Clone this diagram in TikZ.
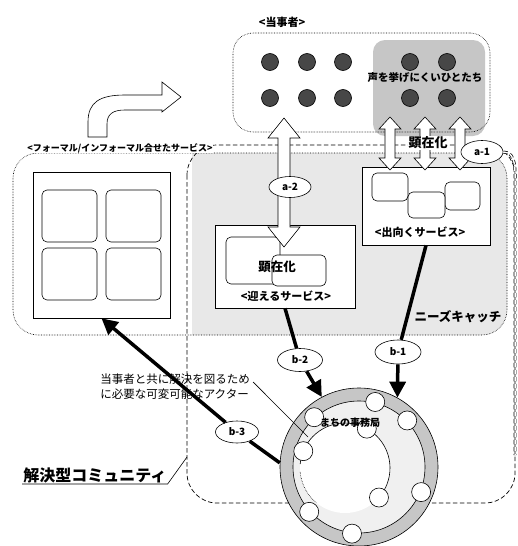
\documentclass[tikz,border=0pt]{standalone}
\usepackage{fontspec}
\newfontfamily\jp{Noto Sans CJK JP}
\usetikzlibrary{arrows.meta,calc,shapes.geometric}
\newcommand{\fatarrow}[5]{%
  \draw[fill=white] (#1) -- ++(#3,#5) -- ++(-#3+#4,0) -- ($(#2)+(#4,-#5)$) -- ++(#3-#4,0) -- (#2) -- ++(-#3,-#5) -- ++(#3-#4,0) -- ($(#1)+(-#4,#5)$) -- ++(-#3+#4,0) -- cycle;}
\tikzset{
  jplabel/.style={font=\jp\bfseries\fontsize{#1}{#1}\selectfont, inner sep=1pt},
  svcbox/.style={draw, fill=white, inner sep=0pt},
  roundbox/.style={draw, fill=white, rounded corners=5pt, inner sep=0pt},
  person/.style={circle, draw, fill=black!72, minimum size=17pt, inner sep=0pt},
  ring/.style={circle, draw, fill=white, minimum size=19pt, inner sep=0pt},
  tagoval/.style={ellipse, draw, fill=white, inner sep=0pt, font=\jp\bfseries\fontsize{10}{10}\selectfont},
  bigline/.style={line width=3.5pt, -{Triangle[length=16pt,width=16pt]}},
  commline/.style={dash pattern=on 4.5pt off 2.5pt, line width=0.7pt},
}
\begin{document}
\begin{tikzpicture}[x=1pt, y=-1pt, line width=0.6pt]
  \fill[white] (0,0) rectangle (518,546);
  \useasboundingbox (0,0) rectangle (518,546);

  \begin{scope}
    \clip (192,150) rectangle (518,340);
    \fill[gray!18, rounded corners=25pt] (13,153) rectangle (507,335);
  \end{scope}
  \node[draw, densely dotted, rounded corners=25pt, minimum width=494pt, minimum height=182pt] (service) at (260,244) {};
  \draw[commline, rounded corners=30pt] (187,145) rectangle (515,503);

  \fill[gray!45, rounded corners=12pt] (373,40) rectangle (485,136);
  \node[draw, densely dotted, rounded corners=20pt, minimum width=257pt, minimum height=99pt] (party) at (361.5,82.5) {};
  \foreach \x in {270,307,343,410,447}
    \foreach \y in {62,98}
      \node[person] (p-\x-\y) at (\x,\y) {};
  \node[jplabel=10.5] (voice) at (425,78) {声を挙げにくいひとたち};
  \node[jplabel=11] (tojisha) at (282,22) {<当事者>};

  \node[svcbox, minimum width=137pt, minimum height=146pt] (formal) at (101.5,245) {};
  \foreach \x/\c in {69.5/1,133.5/2}
    \foreach \y/\r in {216/1,274/2}
      \node[roundbox, minimum width=55pt, minimum height=52pt] (sq\c\r) at (\x,\y) {};

  \node[svcbox, minimum width=128pt, minimum height=78pt] (deru) at (426,206) {};
  \node[roundbox, minimum width=36pt, minimum height=28pt] (deru1) at (390,187) {};
  \node[roundbox, minimum width=35pt, minimum height=28pt] (deru3) at (462.5,196) {};
  \node[roundbox, minimum width=37pt, minimum height=26pt] (deru2) at (426.5,205) {};
  \node[jplabel=11] (derulab) at (420,232) {<出向くサービス>};

  \node[svcbox, minimum width=140pt, minimum height=83pt] (mukae) at (285,266.5) {};
  \node[roundbox, minimum width=54pt, minimum height=47pt] (mukae1) at (253,260.5) {};
  \node[roundbox, minimum width=54pt, minimum height=31pt] (mukae2) at (299,270.5) {};
  \node[jplabel=12.5] (kenzai2) at (277,267) {顕在化};
  \node[jplabel=11] (mukaelab) at (286,296) {<迎えるサービス>};

  \draw[fill=white] (88,137) -- (88,122) .. controls (88,102) and (100,95) .. (125,95) -- (162,95) -- (162,82) -- (181,97) -- (162,112) -- (162,110) -- (125,110) .. controls (113,110) and (107,114) .. (107,124) -- (107,137) -- cycle;

  \coordinate (a2top) at (284,118);
  \coordinate (a2bot) at (284,247);
  \fatarrow{a2top}{a2bot}{16}{6}{20}
  \foreach \x [count=\i] in {390,425,460} {
    \coordinate (a1top\i) at (\x,117);
    \coordinate (a1bot\i) at (\x,170);
    \fatarrow{a1top\i}{a1bot\i}{11}{5}{12}
  }
  \node[jplabel=13, fill=white] (kenzai1) at (428,143) {顕在化};
  \node[jplabel=9, fill=white, inner sep=0.5pt] (formlab) at (120,148) {<フォーマル/インフォーマル合せたサービス>};

  \node[circle, draw, fill=gray!45, minimum size=158pt] (jimu) at (359,467) {};
  \node[circle, draw, fill=gray!12, minimum size=132pt] (jimuin) at (359,467) {};
  \coordinate (inner) at (345,468);
  \fill[white] (inner) circle (45);
  \draw (inner) ++(-175:45) arc[start angle=-175, end angle=45, radius=45];
  \draw[densely dotted] (inner) ++(-185:45) arc[start angle=-185, end angle=-230, radius=45];
  \foreach \a [count=\i] in {-76,-44,-132,22,96,138}
    \node[ring] (r\i) at ($(jimu)+(\a:67)$) {};
  \foreach \a [count=\i] in {-61,-158,41}
    \node[ring] (s\i) at ($(inner)+(\a:45)$) {};
  \node[jplabel=10] (jimulab) at (350,423) {まちの事務局};

  \node[tagoval, minimum width=42pt, minimum height=21pt] (a2) at (290,187) {a-2};
  \node[tagoval, minimum width=42pt, minimum height=23pt] (a1) at (482,152) {a-1};
  \node[tagoval, minimum width=46pt, minimum height=24pt] (b1) at (398,352) {b-1};
  \node[tagoval, minimum width=45pt, minimum height=23pt] (b2) at (300,360) {b-2};
  \node[tagoval, minimum width=43pt, minimum height=22pt] (b3) at (237,432) {b-3};

  \coordinate (righttop) at (515,185);
  \coordinate (rightend) at (515,455);
  \draw[commline, double, double distance=1.5pt] (a1.east) to[out=0, in=90] (righttop) -- (rightend);

  \draw[line width=3.5pt] (deru.south) -- (b1);
  \draw[bigline] (b1) -- (jimu.61);
  \draw[line width=3.5pt] (mukae.south) -- (b2);
  \draw[bigline] (b2) -- (jimu.118);
  \draw[line width=3.5pt] (jimu.177) -- (b3);
  \draw[bigline] (b3) -- (formal.south);

  \node[anchor=north west, align=left, font=\jp\fontsize{11.5}{15}\selectfont, inner sep=0pt] (actor) at (100,374) {当事者と共に解決を図るため\\に必要な可変可能なアクター};
  \coordinate (actorend) at (308,437);
  \draw ($(actor.north east)+(3,8)$) -- (actorend);

  \node[jplabel=16, anchor=south west] (kaiketsu) at (22,484) {解決型コミュニティ};
  \coordinate (commedge) at (187,457);
  \draw (kaiketsu.south west) -- (kaiketsu.south east) -- (commedge);

  \node[jplabel=12.5] (needs) at (458,317) {ニーズキャッチ};
\end{tikzpicture}
\end{document}
